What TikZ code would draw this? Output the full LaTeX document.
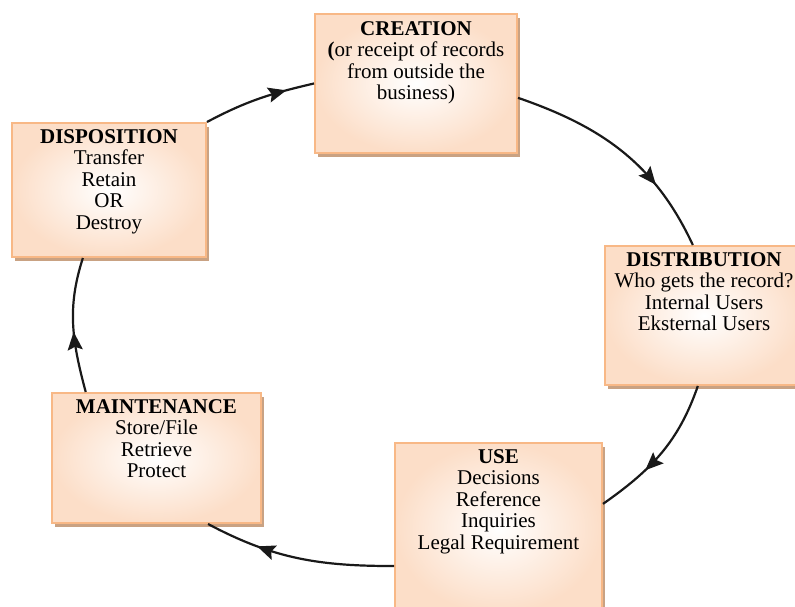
\documentclass[tikz,border=0pt]{standalone}
\usepackage{fontspec}
\setmainfont{Liberation Serif}
\usetikzlibrary{arrows.meta,shadows,decorations.markings}

\definecolor{boxline}{RGB}{248,184,134}
\definecolor{boxfill}{RGB}{252,222,200}
\definecolor{boxshadow}{RGB}{201,162,131}

\tikzset{
    stage/.style={rectangle, draw=boxline, line width=2pt, inner color=white, outer color=boxfill,
        drop shadow={shadow xshift=3pt, shadow yshift=-4pt, fill=boxshadow, opacity=1}},
    stagetext/.style={anchor=north, align=center, inner sep=0pt, font=\fontsize{21}{21.6}\selectfont},
    flow/.style={line width=2.2pt, draw=black!90, postaction={decorate},
        decoration={markings, mark=at position #1 with {\arrow{Stealth[length=18pt,width=15pt,inset=3pt]}}}}
}

\begin{document}
\begin{tikzpicture}[x=1pt, y=1pt]
    \clip (0,0) rectangle (795,606);

    % Stage boxes
    \node[stage, minimum width=202pt, minimum height=139pt] (creation) at (416,522.5) {};
    \node[stage, minimum width=198pt, minimum height=139pt] (distribution) at (704,290.5) {};
    \node[stage, minimum width=207pt, minimum height=170pt] (use) at (498.5,78) {};
    \node[stage, minimum width=209pt, minimum height=130pt] (maintenance) at (156.5,148) {};
    \node[stage, minimum width=194pt, minimum height=134pt] (disposition) at (109,416) {};

    % Stage texts
    \node[stagetext] (creation_text) at ([yshift=-8pt]creation.north)
        {\textbf{CREATION}\\\textbf{(}or receipt of records\\from outside the\\business)};
    \node[stagetext] (distribution_text) at ([yshift=-7pt]distribution.north)
        {\textbf{DISTRIBUTION}\\Who gets the record?\\Internal Users\\Eksternal Users};
    \node[stagetext] (use_text) at ([yshift=-7pt]use.north)
        {\textbf{USE}\\Decisions\\Reference\\Inquiries\\Legal Requirement};
    \node[stagetext] (maintenance_text) at ([yshift=-7pt]maintenance.north)
        {\textbf{MAINTENANCE}\\Store/File\\Retrieve\\Protect};
    \node[stagetext] (disposition_text) at ([yshift=-7pt]disposition.north)
        {\textbf{DISPOSITION}\\Transfer\\Retain\\OR\\Destroy};

    % Life cycle
    \draw[flow=0.7] (creation.-8) to[out=-19, in=115] (distribution.99);
    \draw[flow=0.65] (distribution.-95) to[out=-109, in=35] (use.13);
    \draw[flow=0.72] (use.-160) to[out=180, in=-28] (maintenance.-52);
    \draw[flow=0.45] (maintenance.137) to[out=105, in=252] (disposition.-111);
    \draw[flow=0.75] (disposition.north east) to[out=28, in=193] (creation.west);
\end{tikzpicture}
\end{document}
